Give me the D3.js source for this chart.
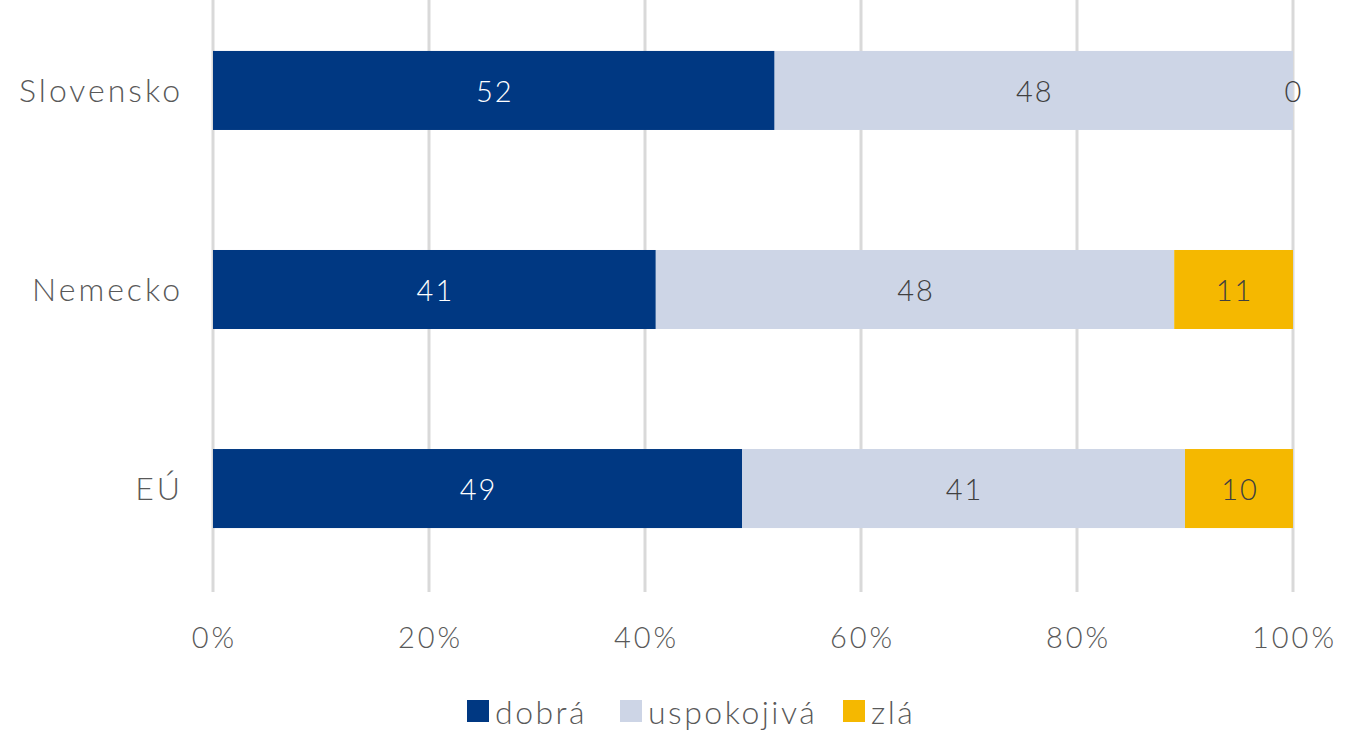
<!DOCTYPE html>
<html><head><meta charset="utf-8">
<script src="https://cdn.jsdelivr.net/npm/d3@7"></script>
<style>
body{margin:0;background:#fff;}
text{font-family:"Lato","Open Sans",sans-serif;font-weight:300;}
</style></head>
<body><svg id="c" width="1362" height="730"></svg>
<script>
const categories = ["Slovensko","Nemecko","EÚ"];
const seriesNames = ["dobrá","uspokojivá","zlá"];
const dobra = [52,41,49];
const uspokojiva = [48,48,41];
const zla = [0,11,10];
const tickValues = [0,20,40,60,80,100];
const colors = ["#003882","#CDD5E6","#F5B800"];
const labelColors = ["#ffffff","#404040","#404040"];

const svg = d3.select("#c");
const x = d3.scaleLinear().domain([0,100]).range([213,1293]);
const y = d3.scaleBand().domain(categories).range([0,579]).paddingInner(0.603).paddingOuter(0.256);

// gridlines
svg.append("g").selectAll("line").data(tickValues).join("line")
  .attr("x1",d=>x(d)).attr("x2",d=>x(d)).attr("y1",0).attr("y2",592)
  .attr("stroke","#d9d9d9").attr("stroke-width",3);

const stackData = categories.map((c,i)=>({cat:c, "dobrá":dobra[i], "uspokojivá":uspokojiva[i], "zlá":zla[i]}));
const stack = d3.stack().keys(seriesNames)(stackData);

stack.forEach((layer,si)=>{
  const g = svg.append("g");
  g.selectAll("rect").data(layer).join("rect")
    .attr("x",d=>x(d[0])).attr("width",d=>x(d[1])-x(d[0]))
    .attr("y",d=>y(d.data.cat)).attr("height",y.bandwidth())
    .attr("fill",colors[si]);
  g.selectAll("text").data(layer).join("text")
    .attr("x",d=>(x(d[0])+x(d[1]))/2+1).attr("y",d=>y(d.data.cat)+y.bandwidth()/2)
    .attr("text-anchor","middle").attr("dominant-baseline","central")
    .attr("font-size",29).attr("letter-spacing",2).attr("fill",labelColors[si])
    .text(d=>d.data[seriesNames[si]]);
});

// category labels
svg.append("g").selectAll("text").data(categories).join("text")
  .attr("x",183).attr("y",d=>y(d)+y.bandwidth()/2-1)
  .attr("text-anchor","end").attr("dominant-baseline","central")
  .attr("font-size",32).attr("letter-spacing",3).attr("fill","#595959").text(d=>d);

// x tick labels
svg.append("g").selectAll("text").data(tickValues).join("text")
  .attr("x",d=>x(d)+1.5).attr("y",636)
  .attr("text-anchor","middle").attr("dominant-baseline","central")
  .attr("font-size",29).attr("letter-spacing",3).attr("fill","#595959").text(d=>d+"%");

// legend
const legX = [467,620,843];
const lg = svg.append("g");
seriesNames.forEach((s,i)=>{
  lg.append("rect").attr("x",legX[i]).attr("y",700).attr("width",22).attr("height",22).attr("fill",colors[i]);
  lg.append("text").attr("x",legX[i]+28).attr("y",711).attr("dominant-baseline","central")
    .attr("font-size",32).attr("letter-spacing",2.5).attr("fill","#595959").text(s);
});
</script></body></html>
